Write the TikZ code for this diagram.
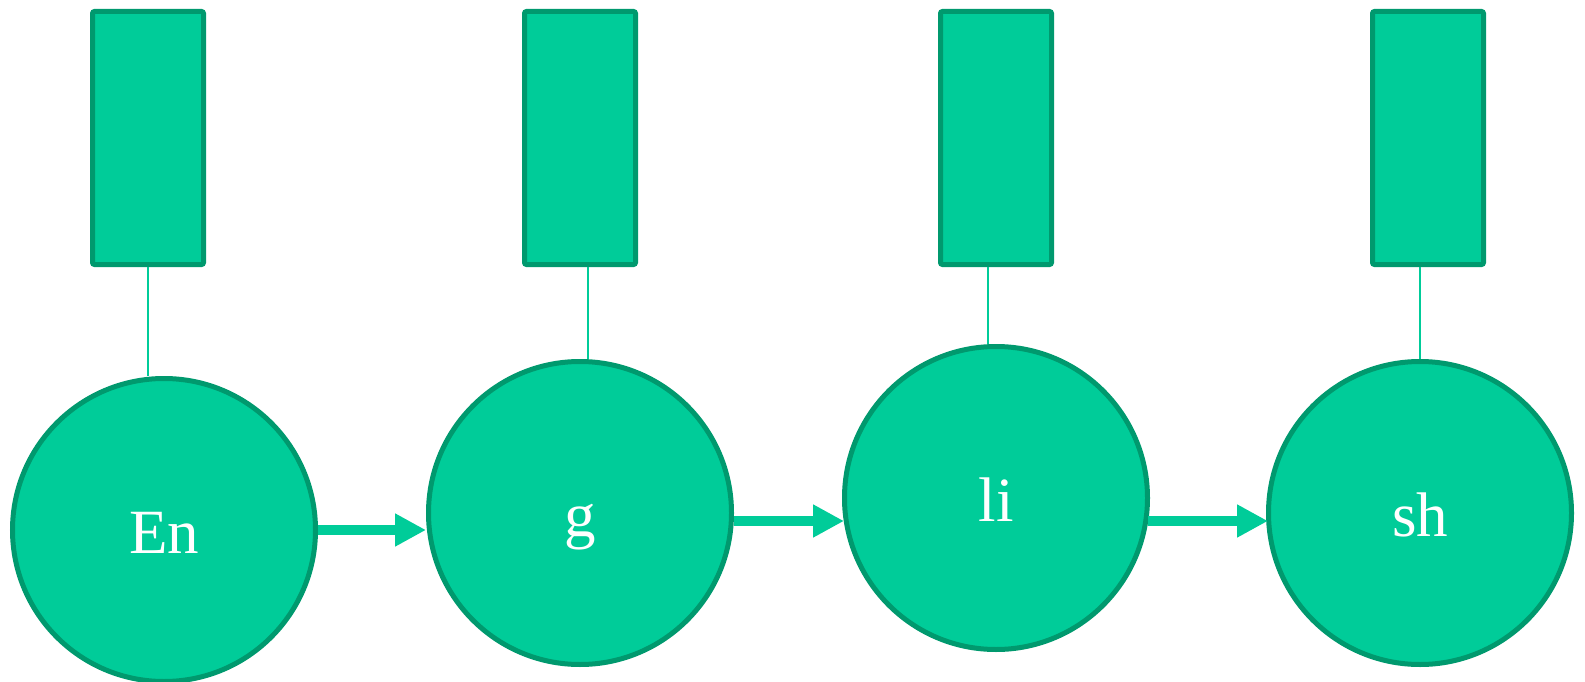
\documentclass[tikz,border=0pt]{standalone}
\usepackage{fontspec}
\setmainfont{Liberation Serif}
\usetikzlibrary{arrows.meta,calc}
\definecolor{nodefill}{RGB}{0,204,153}
\definecolor{nodedraw}{RGB}{0,153,110}
\tikzset{
  bar/.style={draw=nodedraw, fill=nodefill, line width=5pt, rounded corners=2pt,
    minimum width=111pt, minimum height=253pt, inner sep=0pt},
  ball/.style={circle, draw=nodedraw, fill=nodefill, line width=5pt,
    minimum size=303pt, inner sep=0pt, text=white, font=\fontsize{63}{63}\selectfont,
    text height=47pt, text depth=0pt},
  conn/.style={draw=nodefill, line width=2pt},
  flow/.style={draw=nodefill, line width=10pt, -{Triangle[length=31pt,width=31pt]}},
}
\begin{document}
\begin{tikzpicture}[x=1pt,y=-1pt]
\useasboundingbox (0,0) rectangle (1585,682);
% top bars
\node[bar] (r1) at (148,138) {};
\node[bar] (r2) at (580,138) {};
\node[bar] (r3) at (996,138) {};
\node[bar] (r4) at (1428,138) {};
% circles
\node[ball] (c1) at (164,530) {En};
\node[ball] (c2) at (580,513) {g};
\node[ball] (c3) at (996,498) {li};
\node[ball] (c4) at (1420,513) {sh};
% vertical connectors
\draw[conn] (r1.south) -- (r1.south |- c1.north);
\draw[conn] ([xshift=8pt]r2.south) -- ([xshift=8pt]r2.south |- c2.north);
\draw[conn] ([xshift=-8pt]r3.south) -- ([xshift=-8pt]r3.south |- c3.north);
\draw[conn] ([xshift=-8pt]r4.south) -- ([xshift=-8pt]r4.south |- c4.north);
% arrows
\coordinate (a1) at (c1.east);
\coordinate (a2) at ([yshift=-8pt]c2.east);
\coordinate (a3) at ([xshift=-2pt,yshift=-23pt]c3.east);
\draw[flow] (a1) -- (a1 -| c2.west);
\draw[flow] (a2) -- ([xshift=2pt]a2 -| c3.west);
\draw[flow] (a3) -- ([xshift=2pt]a3 -| c4.west);
\end{tikzpicture}
\end{document}
